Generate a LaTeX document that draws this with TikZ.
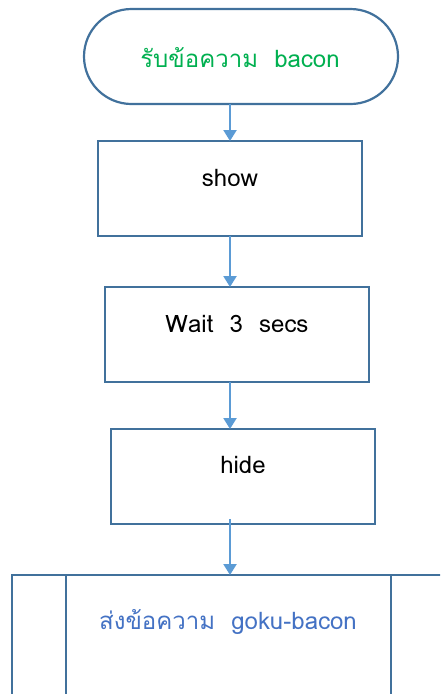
\documentclass[tikz,border=0pt]{standalone}
\usepackage{fontspec}
\newfontfamily\thaifont[Script=Thai]{Loma}
\usetikzlibrary{arrows.meta}
\definecolor{boxline}{HTML}{41719C}
\definecolor{arrowc}{HTML}{5B9BD5}
\definecolor{tgreen}{HTML}{00B050}
\definecolor{tblue}{HTML}{4472C4}
\tikzset{
  box/.style={draw=boxline, line width=2.2pt, fill=white},
  lbl/.style={font=\thaifont\fontsize{24}{28}\selectfont, inner sep=0pt},
  conn/.style={draw=arrowc, line width=2.2pt, -{Triangle[length=11pt,width=13pt]}}
}
\begin{document}
\begin{tikzpicture}[x=1pt,y=-1pt]
\useasboundingbox (0,0) rectangle (440,694);
\clip (0,0) rectangle (440,694);
% terminal
\draw[box, rounded corners=47.5pt] (84,9) rectangle (398,104);
\node[lbl, text=tgreen] (tl) at (240,58) {รับข้อความ\ \ bacon};
% boxes
\draw[box] (98,141) rectangle (362,236);
\node[lbl] (l1) at (230,178) {show};
\draw[box] (105,287) rectangle (369,382);
\node[lbl] (l2) at (237,324) {Wait\ \ 3\ \ secs};
\draw[box] (111,429) rectangle (375,524);
\node[lbl] (l3) at (243,465) {hide};
% predefined process
\draw[box] (12,575) rectangle (460,720);
\draw[box] (66,575) -- (66,720);
\draw[box] (391,575) -- (391,720);
\node[lbl, text=tblue] (l4) at (228,622) {ส่งข้อความ\ \ goku-bacon};
% connectors
\coordinate (a0) at (230,104);
\coordinate (a1) at (230,141);
\coordinate (b0) at (230,236);
\coordinate (b1) at (230,287);
\coordinate (c0) at (230,382);
\coordinate (c1) at (230,429);
\coordinate (d0) at (230,519);
\coordinate (d1) at (230,575);
\draw[conn] (a0) -- (a1);
\draw[conn] (b0) -- (b1);
\draw[conn] (c0) -- (c1);
\draw[conn] (d0) -- (d1);
\end{tikzpicture}
\end{document}
